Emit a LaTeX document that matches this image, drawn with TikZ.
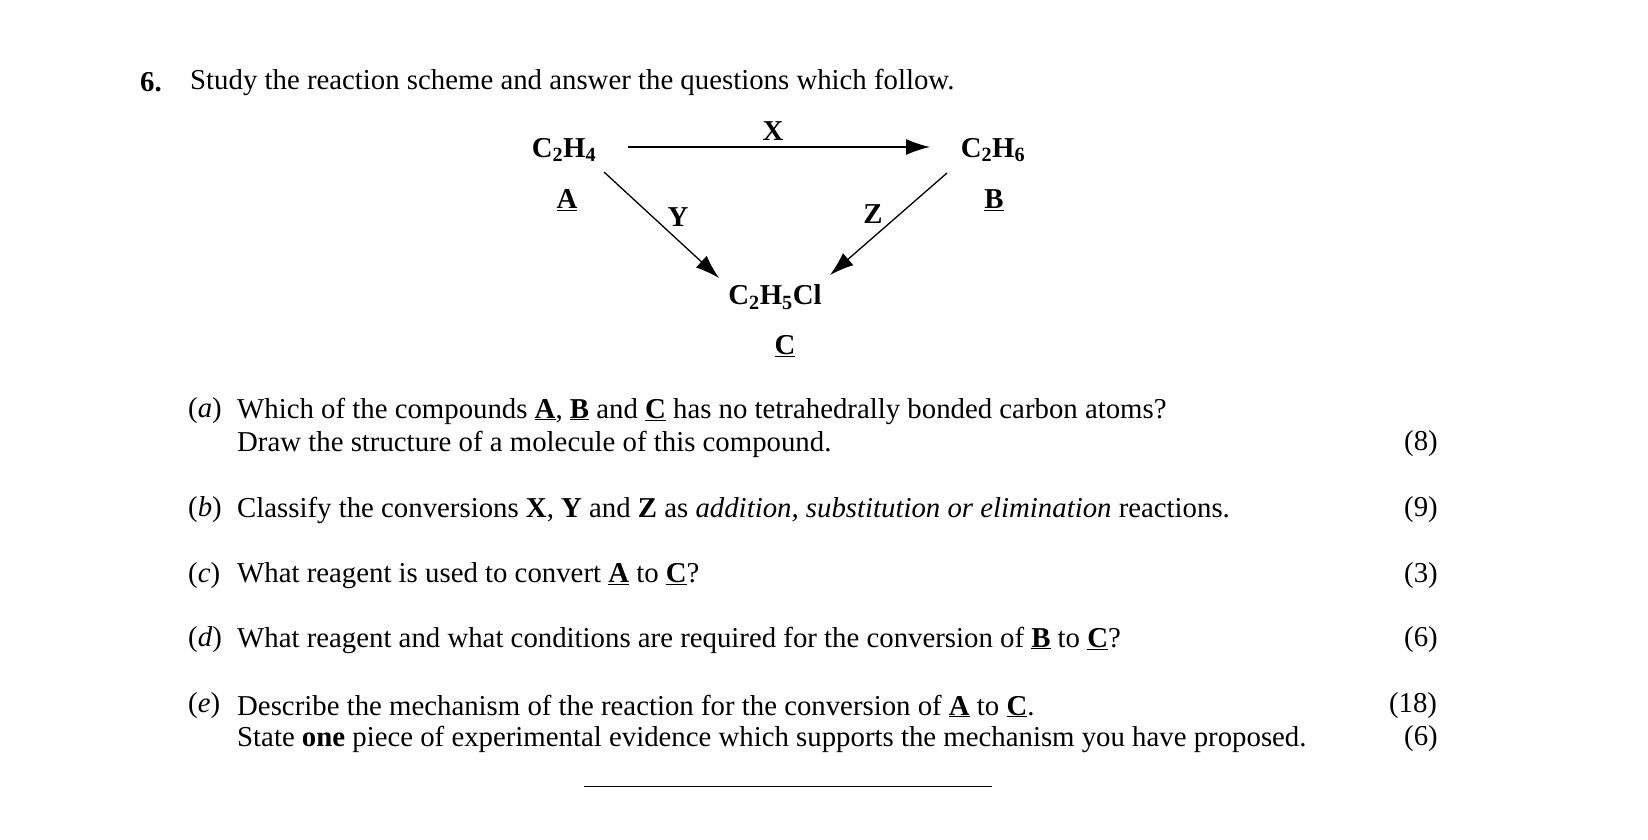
\documentclass[tikz,border=0pt]{standalone}
\usepackage{fontspec}
\setmainfont{Liberation Serif}
\usetikzlibrary{arrows.meta}
\begin{document}
\begin{tikzpicture}[x=1pt,y=-1pt,
  txt/.style={anchor=west,inner sep=0pt,font=\fontsize{28.8}{33}\selectfont},
  ctr/.style={inner sep=0pt,font=\fontsize{28.8}{33}\selectfont\bfseries},
  mk/.style={anchor=center,inner sep=0pt,font=\fontsize{28.8}{33}\selectfont},
  arr/.style={line width=1.3pt,-{Latex[length=24pt,width=16pt]}}]
\useasboundingbox (0,0) rectangle (1648,840);
\node[txt] (n6) at (140,82) {\textbf{6.}};
\node[txt] (intro) at (190,82) {Study the reaction scheme and answer the questions which follow.};
\node[ctr] (cA) at (564,150) {C\textsubscript{2}H\textsubscript{4}};
\node[ctr] (lA) at (567,200) {\underline{A}};
\node[ctr] (cB) at (993,150) {C\textsubscript{2}H\textsubscript{6}};
\node[ctr] (lB) at (994,200) {\underline{B}};
\node[ctr] (cC) at (775,297) {C\textsubscript{2}H\textsubscript{5}Cl};
\node[ctr] (lC) at (785,346) {\underline{C}};
\coordinate (x1) at (628,147); \coordinate (x2) at (930,147);
\coordinate (y1) at (604,172); \coordinate (y2) at (719,278);
\coordinate (z1) at (947,173); \coordinate (z2) at (830,275);
\draw[arr] (x1) -- (x2);
\draw[arr] (y1) -- (y2);
\draw[arr] (z1) -- (z2);
\node[ctr] (lX) at (773,131) {X};
\node[ctr] (lY) at (678,217) {Y};
\node[ctr] (lZ) at (873,214) {Z};
\node[txt] (qa) at (188,411) {(\textit{a})};
\node[txt] (ta1) at (237,411) {Which of the compounds \textbf{\underline{A}}, \textbf{\underline{B}} and \textbf{\underline{C}} has no tetrahedrally bonded carbon atoms?};
\node[txt] (ta2) at (237,444) {Draw the structure of a molecule of this compound.};
\node[mk] (ma) at (1421,444) {(8)};
\node[txt] (qb) at (188,510) {(\textit{b})};
\node[txt] (tb) at (237,510) {Classify the conversions \textbf{X}, \textbf{Y} and \textbf{Z} as \textit{addition, substitution or elimination} reactions.};
\node[mk] (mb) at (1421,510) {(9)};
\node[txt] (qc) at (188,576) {(\textit{c})};
\node[txt] (tc) at (237,576) {What reagent is used to convert \textbf{\underline{A}} to \textbf{\underline{C}}?};
\node[mk] (mc) at (1421,576) {(3)};
\node[txt] (qd) at (188,640) {(\textit{d})};
\node[txt] (td) at (237,640) {What reagent and what conditions are required for the conversion of \textbf{\underline{B}} to \textbf{\underline{C}}?};
\node[mk] (md) at (1421,640) {(6)};
\node[txt] (qe) at (188,706) {(\textit{e})};
\node[txt] (te1) at (237,706) {Describe the mechanism of the reaction for the conversion of \textbf{\underline{A}} to \textbf{\underline{C}}.};
\node[txt] (te2) at (237,739) {State \textbf{one} piece of experimental evidence which supports the mechanism you have proposed.};
\node[mk] (me1) at (1413,706) {(18)};
\node[mk] (me2) at (1421,739) {(6)};
\coordinate (b1) at (584,786); \coordinate (b2) at (992,786);
\draw[line width=1pt] (b1) -- (b2);
\end{tikzpicture}
\end{document}
